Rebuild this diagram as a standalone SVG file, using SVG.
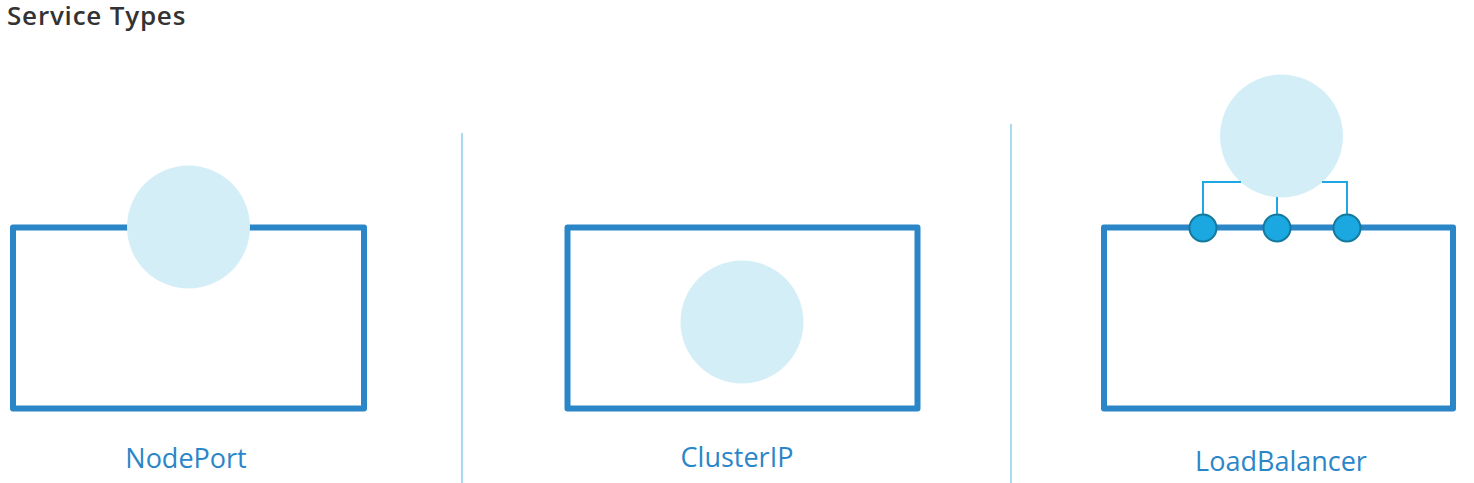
<svg xmlns="http://www.w3.org/2000/svg" width="1474" height="483" viewBox="0 0 1474 483">
<style>
.box{fill:none;stroke:#2B86C8;stroke-width:6;stroke-linejoin:round}
.svc{fill:#D4EEF8}
.port{fill:#1BA8E0;stroke:#14799F;stroke-width:2}
.wire{fill:none;stroke:#1EA7E1;stroke-width:2}
.div{stroke:#A9DAF2;stroke-width:2}
.lbl{font-family:"Open Sans","Noto Sans",sans-serif;font-size:27px;fill:#2B86C8;text-anchor:middle}
.title{font-family:"Open Sans","Noto Sans",sans-serif;font-size:26px;font-weight:600;fill:#333;letter-spacing:0.8px}
</style>
<rect width="1474" height="483" fill="#fff"/>
<text class="title" x="7" y="25">Service Types</text>
<g id="dividers">
<line class="div" x1="462" y1="133" x2="462" y2="483"/>
<line class="div" x1="1011" y1="124" x2="1011" y2="483"/>
</g>
<g id="nodeport">
<rect class="box" x="13" y="227.5" width="351" height="181"/>
<circle class="svc" cx="188.5" cy="227" r="61.5"/>
<text class="lbl" x="186" y="468">NodePort</text>
</g>
<g id="clusterip">
<rect class="box" x="567.5" y="227.5" width="350" height="181"/>
<circle class="svc" cx="742" cy="322" r="61.5"/>
<text class="lbl" x="737" y="467">ClusterIP</text>
</g>
<g id="loadbalancer">
<rect class="box" x="1104" y="227.5" width="349" height="181"/>
<circle class="svc" cx="1281.5" cy="136" r="61.5"/>
<text class="lbl" x="1281" y="471">LoadBalancer</text>
</g>
<g id="connectors">
<polyline class="wire" points="1203,214 1203,182 1241,182"/>
<polyline class="wire" points="1347,214 1347,182 1322,182"/>
<line class="wire" x1="1277" y1="197" x2="1277" y2="214"/>
</g>
<g id="ports">
<circle class="port" cx="1203" cy="228" r="13.5"/>
<circle class="port" cx="1277" cy="228" r="13.5"/>
<circle class="port" cx="1347" cy="228" r="13.5"/>
</g>
</svg>
